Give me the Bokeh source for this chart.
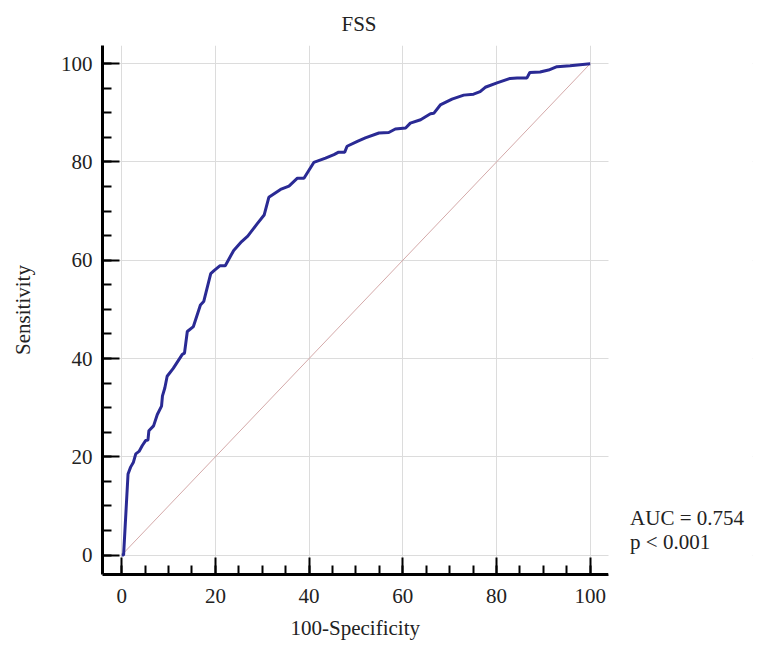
from bokeh.plotting import figure
from bokeh.models import Range1d, FixedTicker, Label, BoxAnnotation, Title
from bokeh.embed import file_html
from bokeh.resources import INLINE

# ROC curve for FSS (100-Specificity vs Sensitivity)
fpr = [0, 0.4, 1.35, 1.9, 2.5, 3.0, 3.7, 4.4, 5.1, 5.6, 5.8, 6.8, 7.6, 8.5, 8.7, 9.2,
       9.7, 11.0, 12.9, 13.4, 14.0, 15.3, 16.8, 17.5, 19.0, 19.7, 21.0, 22.1, 23.9,
       25.6, 26.9, 28.9, 30.4, 31.4, 33.9, 35.7, 37.5, 38.9, 41.0, 43.5, 45.3, 46.3,
       47.6, 48.1, 50.3, 52.0, 54.9, 57.0, 58.4, 60.6, 61.6, 63.8, 65.9, 66.6, 68.0,
       70.5, 73.0, 75.1, 76.5, 77.6, 80.1, 82.9, 84.4, 86.5, 87.1, 89.3, 91.1, 92.9,
       95.7, 100]
tpr = [0, 0, 16.5, 17.9, 18.9, 20.6, 21.1, 22.3, 23.3, 23.4, 25.3, 26.3, 28.6, 30.3,
       32.4, 34.0, 36.4, 38.0, 40.8, 41.1, 45.5, 46.5, 50.9, 51.6, 57.3, 57.9, 58.9,
       58.9, 62.0, 63.8, 64.9, 67.4, 69.2, 72.8, 74.4, 75.1, 76.7, 76.7, 79.9, 80.8,
       81.5, 82.0, 82.0, 83.2, 84.2, 84.9, 85.9, 86.0, 86.7, 86.9, 87.9, 88.6, 89.8,
       89.9, 91.6, 92.8, 93.6, 93.8, 94.3, 95.2, 96.1, 97.0, 97.1, 97.1, 98.2, 98.3,
       98.7, 99.4, 99.6, 100]
ref_x = [0, 100]
ref_y = [0, 100]
major_ticks = [0, 20, 40, 60, 80, 100]
minor_ticks = list(range(0, 101, 5))
title_text = "FSS"
x_label = "100-Specificity"
y_label = "Sensitivity"
auc_text = "AUC = 0.754"
p_text = "p < 0.001"

FONT = "Liberation Serif"

X0, X1 = -4.1, 103.9          # visible axis extent
PX_PER_UNIT = 506 / (X1 - X0)
X_END = X0 + 650 / PX_PER_UNIT  # frame extends right so the stats text fits inside it

p = figure(width=757, height=648, x_range=Range1d(X0, X_END), y_range=Range1d(-3.95, 103.7),
           output_backend="svg", toolbar_location=None,
           min_border_left=102, min_border_right=5, min_border_top=45, min_border_bottom=70)
p.outline_line_color = None
p.background_fill_color = "white"
p.border_fill_color = "white"

p.title.text = title_text
p.title.align = "left"
p.title.offset = 239
p.title.text_font = FONT
p.title.text_font_size = "21px"
p.title.text_font_style = "normal"
p.title.text_color = "#222222"
p.title.standoff = 19

for ax in (p.xaxis[0], p.yaxis[0]):
    ax.ticker = FixedTicker(ticks=major_ticks, minor_ticks=minor_ticks)
    ax.axis_line_width = 3
    ax.axis_line_color = "black"
    ax.major_tick_in = 17
    ax.major_tick_out = 0
    ax.minor_tick_in = 9
    ax.minor_tick_out = 0
    ax.major_tick_line_width = 2
    ax.minor_tick_line_width = 2
    ax.major_tick_line_color = "black"
    ax.minor_tick_line_color = "black"
    ax.major_label_text_font = FONT
    ax.major_label_text_font_size = "21px"
    ax.major_label_text_color = "#222222"
    ax.axis_label_text_font = FONT
    ax.axis_label_text_font_size = "21px"
    ax.axis_label_text_font_style = "normal"
    ax.axis_label_text_color = "#222222"

p.xaxis.bounds = (X0, X1)
p.yaxis.axis_label = y_label
p.xaxis.major_label_standoff = 14
p.yaxis.major_label_standoff = 10
p.yaxis.axis_label_standoff = 23

# x-axis title, centred under the visible axis extent
p.add_layout(Title(text=x_label, align="left", offset=188, standoff=17,
                   text_font=FONT, text_font_size="21px", text_font_style="normal",
                   text_color="#222222"), "below")

p.xgrid.ticker = FixedTicker(ticks=major_ticks)
p.ygrid.ticker = FixedTicker(ticks=major_ticks)
p.grid.grid_line_color = "#dcdcdc"
p.grid.grid_line_width = 1

p.line(ref_x, ref_y, line_color="#d4a9a9", line_width=1)
p.line(fpr, tpr, line_color="#2a2a94", line_width=3)

# blank out the gridlines to the right of the plotting area
p.add_layout(BoxAnnotation(left=X1, fill_color="white", fill_alpha=1.0, line_alpha=0))

p.add_layout(Label(x=108.5, y=7.6, text=auc_text, text_font=FONT, text_font_size="21px",
                   text_color="#222222", text_baseline="alphabetic"))
p.add_layout(Label(x=108.5, y=2.7, text=p_text, text_font=FONT, text_font_size="21px",
                   text_color="#222222", text_baseline="alphabetic"))

open("out.html", "w").write(file_html(p, INLINE))
